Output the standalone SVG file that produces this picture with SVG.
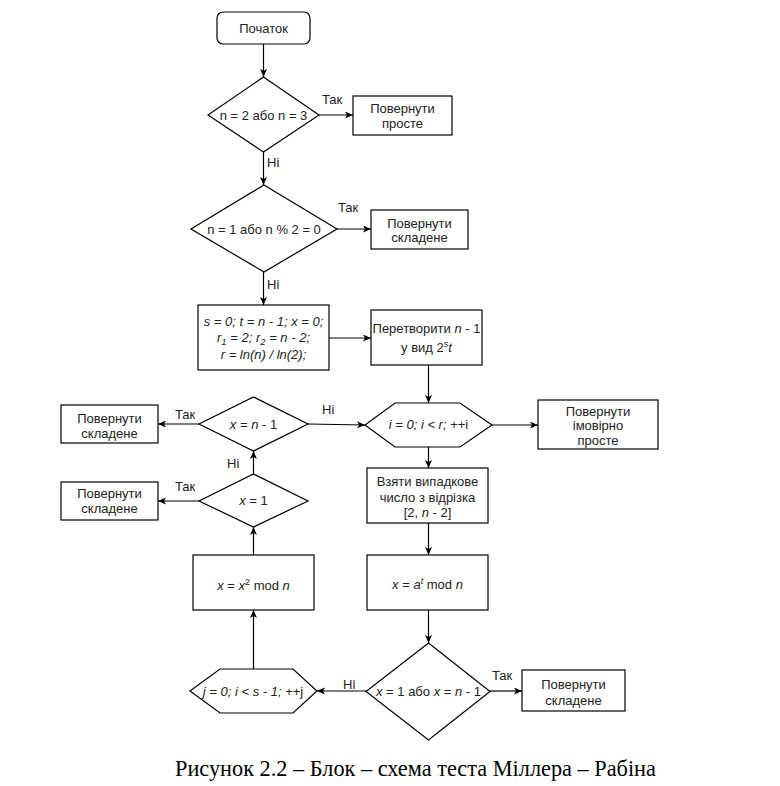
<svg xmlns="http://www.w3.org/2000/svg" width="780" height="786" viewBox="0 0 780 786">
<defs>
<marker id="arr" markerUnits="userSpaceOnUse" markerWidth="10" markerHeight="8" refX="8" refY="3.5" orient="auto">
<path d="M0,0 L8,3.5 L0,7 L2,3.5 Z" fill="#000"/>
</marker>
<style>
.s{fill:#fff;stroke:#000;stroke-width:1.2}
.t{font-family:"Liberation Sans",Arial,sans-serif;font-size:13px;fill:#222;text-anchor:middle}
.l{font-family:"Liberation Sans",Arial,sans-serif;font-size:13px;fill:#222}
.c{fill:none;stroke:#000;stroke-width:1.2;marker-end:url(#arr)}
.i{font-style:italic}
.cap{font-family:"Liberation Serif","Times New Roman",serif;font-size:22.3px;fill:#000}
</style>
</defs>
<rect width="780" height="786" fill="#fff"/>

<g id="connectors">
<line class="c" x1="263.5" y1="44" x2="263.5" y2="77"/>
<line class="c" x1="319" y1="115" x2="353" y2="115"/>
<line class="c" x1="263.5" y1="152" x2="263.5" y2="185"/>
<line class="c" x1="337" y1="229" x2="371" y2="229"/>
<line class="c" x1="263.5" y1="272" x2="263.5" y2="305"/>
<line class="c" x1="329" y1="338" x2="371" y2="338"/>
<line class="c" x1="428.5" y1="365" x2="428.5" y2="403"/>
<line class="c" x1="492" y1="425" x2="538" y2="425"/>
<line class="c" x1="428.5" y1="447" x2="428.5" y2="468"/>
<line class="c" x1="428.5" y1="523" x2="428.5" y2="555"/>
<line class="c" x1="428.5" y1="610" x2="428.5" y2="643"/>
<line class="c" x1="490" y1="691" x2="522" y2="691"/>
<line class="c" x1="366" y1="691" x2="317" y2="691"/>
<line class="c" x1="253.5" y1="669" x2="253.5" y2="610"/>
<line class="c" x1="253.5" y1="555" x2="253.5" y2="527"/>
<line class="c" x1="199" y1="501" x2="158" y2="501"/>
<line class="c" x1="253.5" y1="474" x2="253.5" y2="451"/>
<line class="c" x1="199" y1="424" x2="158" y2="424"/>
<line class="c" x1="308" y1="424" x2="365" y2="425"/>
<text class="l" x="322" y="104">Так</text>
<text class="l" x="267" y="166.5">Ні</text>
<text class="l" x="338" y="211.5">Так</text>
<text class="l" x="267" y="288.5">Ні</text>
<text class="l" x="492" y="680">Так</text>
<text class="l" x="343" y="688.5">Ні</text>
<text class="l" x="175" y="490.5">Так</text>
<text class="l" x="227" y="467.5">Ні</text>
<text class="l" x="175" y="418.5">Так</text>
<text class="l" x="322" y="413.5">Ні</text>
</g>

<g id="start">
<rect class="s" x="217" y="12" width="93" height="32" rx="6"/>
<text class="t" x="263.5" y="32.5">Початок</text>
</g>

<g id="dec1">
<polygon class="s" points="263.5,77 319,115 263.5,152 208,115"/>
<text class="t" x="263.5" y="119.5">n = 2 або n = 3</text>
</g>

<g id="ret-prime">
<rect class="s" x="353" y="96" width="99" height="39"/>
<text class="t" x="402.5" y="112.5">Повернути</text>
<text class="t" x="402.5" y="127.5">просте</text>
</g>

<g id="dec2">
<polygon class="s" points="264,185 337,229 264,272 191,229"/>
<text class="t" x="264" y="233.5">n = 1 або n % 2 = 0</text>
</g>

<g id="ret-comp1">
<rect class="s" x="371" y="210" width="97" height="39"/>
<text class="t" x="419.5" y="227.5">Повернути</text>
<text class="t" x="419.5" y="241.5">складене</text>
</g>

<g id="init">
<rect class="s" x="198" y="305" width="131" height="65"/>
<text class="t i" x="263.5" y="326">s = 0; t = n - 1; x = 0;</text>
<text class="t i" x="263.5" y="341.5">r<tspan baseline-shift="-2.5" font-size="9.5">1</tspan> = 2; r<tspan baseline-shift="-2.5" font-size="9.5">2</tspan> = n - 2;</text>
<text class="t i" x="263.5" y="358.5">r = ln(n) / ln(2);</text>
</g>

<g id="convert">
<rect class="s" x="371" y="310" width="111" height="55"/>
<text class="t" x="426.5" y="332.5">Перетворити <tspan class="i">n</tspan> - 1</text>
<text class="t" x="426.5" y="351.5">у вид 2<tspan baseline-shift="super" font-size="9" class="i">s</tspan><tspan class="i">t</tspan></text>
</g>

<g id="loop-i">
<polygon class="s" points="365,425 395,403 460,403 492,425 460,447 395,447"/>
<text class="t" x="428.5" y="429"><tspan class="i">i = 0; i &lt; r;</tspan> ++i</text>
</g>

<g id="ret-probprime">
<rect class="s" x="538" y="400" width="120" height="49"/>
<text class="t" x="598" y="415.5">Повернути</text>
<text class="t" x="598" y="429.5">імовірно</text>
<text class="t" x="598" y="444.5">просте</text>
</g>

<g id="random">
<rect class="s" x="367" y="468" width="121" height="55"/>
<text class="t" x="427.5" y="485.5">Взяти випадкове</text>
<text class="t" x="427.5" y="501.5">число з відрізка</text>
<text class="t" x="427.5" y="516.5">[2, <tspan class="i">n</tspan> - 2]</text>
</g>

<g id="powmod">
<rect class="s" x="367" y="555" width="121" height="55"/>
<text class="t" x="427.5" y="588.5"><tspan class="i">x</tspan> = <tspan class="i">a</tspan><tspan baseline-shift="super" font-size="9" class="i">t</tspan> mod <tspan class="i">n</tspan></text>
</g>

<g id="dec3">
<polygon class="s" points="428.5,643 490,691.5 428.5,740 366,691.5"/>
<text class="t" x="428.5" y="695.5"><tspan class="i">x</tspan> = 1 або <tspan class="i">x</tspan> = <tspan class="i">n</tspan> - 1</text>
</g>

<g id="ret-comp2">
<rect class="s" x="522" y="670" width="103" height="41"/>
<text class="t" x="573.5" y="688.5">Повернути</text>
<text class="t" x="573.5" y="704.5">складене</text>
</g>

<g id="loop-j">
<polygon class="s" points="190,691 220,669 293,669 317,691 293,713 220,713"/>
<text class="t" x="253" y="695.5"><tspan class="i">j = 0; i &lt; s - 1;</tspan> ++j</text>
</g>

<g id="square">
<rect class="s" x="193" y="555" width="121" height="55"/>
<text class="t" x="253.5" y="589.5"><tspan class="i">x</tspan> = <tspan class="i">x</tspan><tspan baseline-shift="super" font-size="9">2</tspan> mod <tspan class="i">n</tspan></text>
</g>

<g id="dec-x1">
<polygon class="s" points="253.5,474 308,501 253.5,527 199,501"/>
<text class="t" x="253.5" y="505"><tspan class="i">x</tspan> = 1</text>
</g>

<g id="ret-comp3">
<rect class="s" x="61" y="482" width="97" height="38"/>
<text class="t" x="109.5" y="497.5">Повернути</text>
<text class="t" x="109.5" y="512.5">складене</text>
</g>

<g id="dec-xn1">
<polygon class="s" points="253.5,397 308,424 253.5,451 199,424"/>
<text class="t" x="253.5" y="428.5"><tspan class="i">x</tspan> = <tspan class="i">n</tspan> - 1</text>
</g>

<g id="ret-comp4">
<rect class="s" x="61" y="405" width="97" height="38"/>
<text class="t" x="109.5" y="422.5">Повернути</text>
<text class="t" x="109.5" y="437.5">складене</text>
</g>

<text class="cap" x="175" y="776">Рисунок 2.2 – Блок – схема теста Міллера – Рабіна</text>
</svg>
